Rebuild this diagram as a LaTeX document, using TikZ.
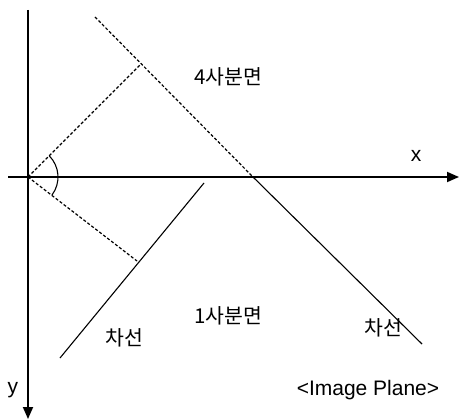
\documentclass[tikz,border=0pt]{standalone}
\usepackage{fontspec}
\setmainfont{Liberation Sans}
\newfontfamily\kr{Noto Sans CJK KR}
\usetikzlibrary{arrows.meta}
\tikzset{
  axis/.style={-{Triangle[length=12pt,width=10pt]}, line width=1.8pt},
  lane/.style={line width=1.1pt},
  guide/.style={line width=1.2pt, dash pattern=on 3pt off 2pt},
  lbl/.style={inner sep=0pt, font=\fontsize{21}{24}\selectfont},
  krlbl/.style={inner sep=0pt, font=\kr\fontsize{20.5}{24}\selectfont}
}
\begin{document}
\begin{tikzpicture}[x=1pt,y=-1pt]
\useasboundingbox (0,0) rectangle (461,420);
\coordinate (o) at (28,177);
\coordinate (ytop) at (28,10);
\coordinate (ybot) at (28,419);
\coordinate (xleft) at (8,177);
\coordinate (xright) at (459,177);
\coordinate (r1) at (95,17);
\coordinate (r2) at (253,177);
\coordinate (r3) at (422,344);
\coordinate (rfoot) at (141,64);
\coordinate (l1) at (60,358);
\coordinate (l2) at (204,183);
\coordinate (lfoot) at (137,261);
\draw[axis] (xleft) -- (xright);
\draw[axis] (ytop) -- (ybot);
\draw[guide] (r1) -- (r2);
\draw[lane] (r2) -- (r3);
\draw[lane] (l1) -- (l2);
\draw[guide] (o) -- (rfoot);
\draw[guide] (o) -- (lfoot);
\draw[lane] (o) ++(-45:30) arc[start angle=-45, end angle=37, radius=30];
\node[krlbl] (q4) at (228,77) {4사분면};
\node[krlbl] (q1) at (228,316) {1사분면};
\node[krlbl] (lanel) at (124,338) {차선};
\node[krlbl] (laner) at (383,328) {차선};
\node[lbl] (xl) at (416,156) {x};
\node[lbl] (yl) at (13,390) {y};
\node[lbl] (plane) at (368,390) {<Image Plane>};
\end{tikzpicture}
\end{document}
